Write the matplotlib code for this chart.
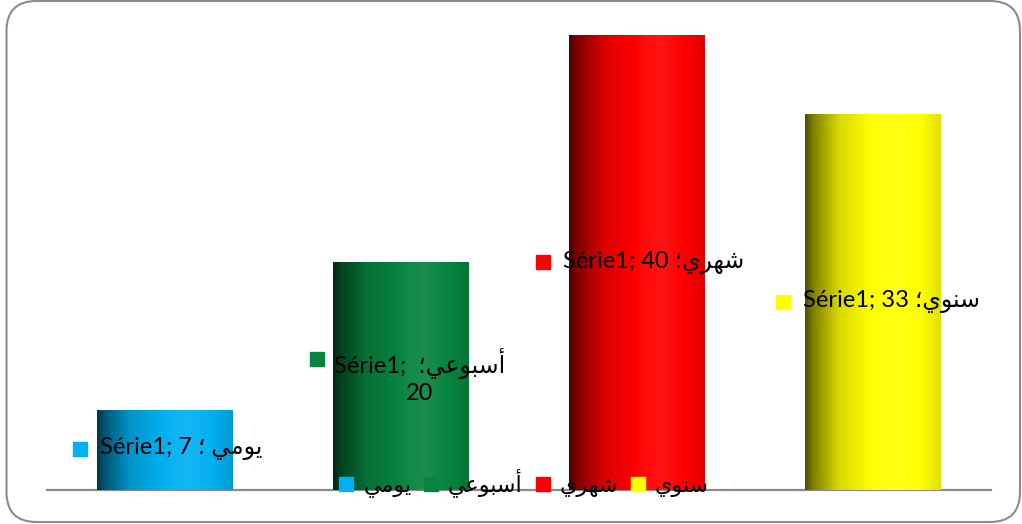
import numpy as np
import matplotlib
matplotlib.use("Agg")
import matplotlib.pyplot as plt
from matplotlib.patches import FancyBboxPatch
from matplotlib.lines import Line2D
from matplotlib.colors import to_rgb

# data
categories = ["يومي", "أسبوعي", "شهري", "سنوي"]
values = [7, 20, 40, 33]
series_name = "Série1"
colors = ["#00b0f0", "#07843f", "#ff0000", "#ffff00"]

# tiny arabic shaper (matplotlib does no shaping / bidi)
FORMS = {
    'ي': ('\ufef1', '\ufef2', '\ufef3', '\ufef4'),
    'م': ('\ufee1', '\ufee2', '\ufee3', '\ufee4'),
    'س': ('\ufeb1', '\ufeb2', '\ufeb3', '\ufeb4'),
    'ب': ('\ufe8f', '\ufe90', '\ufe91', '\ufe92'),
    'ع': ('\ufec9', '\ufeca', '\ufecb', '\ufecc'),
    'ش': ('\ufeb5', '\ufeb6', '\ufeb7', '\ufeb8'),
    'ه': ('\ufee9', '\ufeea', '\ufeeb', '\ufeec'),
    'ن': ('\ufee5', '\ufee6', '\ufee7', '\ufee8'),
    'و': ('\ufeed', '\ufeee'),
    'ر': ('\ufead', '\ufeae'),
    'أ': ('\ufe83', '\ufe84'),
}


def shape(word):
    out = []
    for i, ch in enumerate(word):
        f = FORMS.get(ch)
        if f is None:
            out.append(ch)
            continue
        prev = word[i - 1] if i > 0 else ''
        nxt = word[i + 1] if i + 1 < len(word) else ''
        jp = prev in FORMS and len(FORMS[prev]) == 4
        jn = nxt in FORMS and len(f) == 4
        if jp and jn:
            out.append(f[3])
        elif jp:
            out.append(f[1])
        elif jn:
            out.append(f[2])
        else:
            out.append(f[0])
    return ''.join(reversed(out))


FONT = ['Lato', 'DejaVu Sans']
plt.rcParams['font.family'] = FONT

fig = plt.figure(figsize=(10.22, 5.24), dpi=100)
W, H = 1022, 524

# rounded chart frame
frame = FancyBboxPatch((0.065, 0.02), 10.135, 5.21,
                       boxstyle="round,pad=0,rounding_size=0.3",
                       transform=fig.dpi_scale_trans, facecolor='none',
                       edgecolor='#8c8c8c', linewidth=1.5, zorder=-1)
fig.patches.append(frame)

ax = fig.add_axes([47 / W, (H - 490) / H, (991 - 47) / W, (490 - 35) / H])
ax.set_facecolor('none')
x = np.arange(len(categories))
bars = ax.bar(x, values, width=0.576, color=colors, zorder=2)
for s in ['top', 'left', 'right']:
    ax.spines[s].set_visible(False)
ax.spines['bottom'].set_color('#8c8c8c')
ax.spines['bottom'].set_linewidth(1.6)
ax.set_xticks([])
ax.set_yticks([])

# cylinder shading
t = np.linspace(0, 1, 256)
prof = np.interp(t, [0, 0.06, 0.25, 0.55, 0.68, 0.85, 1.0],
                 [0.3, 0.5, 0.85, 1.04, 1.08, 1.0, 0.88])
for p, c in zip(bars, colors):
    base = np.array(to_rgb(c))
    img = np.empty((1, 256, 3))
    for k, f in enumerate(prof):
        if f <= 1:
            img[0, k] = base * f
        else:
            img[0, k] = base + (1 - base) * (f - 1)
    x0, w, h = p.get_x(), p.get_width(), p.get_height()
    ax.imshow(img, extent=(x0, x0 + w, 0, h), aspect='auto',
              interpolation='bilinear', zorder=3)

ax.set_xlim(-0.5, 3.5)
ax.set_ylim(0, 40)

# data labels (positions in data coords)
ppx = 236.0  # pixels per category
ppy = 455.0 / 40


def dpos(px, py):
    return (px - 47) / ppx - 0.5, (490 - py) / ppy


label_txt = [
    f"{series_name}; {values[0]} ؛ " + shape(categories[0]),
    f"{series_name};  ؛" + shape(categories[1]) + f"\n{values[1]}",
    f"{series_name}; {values[2]} ؛" + shape(categories[2]),
    f"{series_name}; {values[3]} ؛" + shape(categories[3]),
]
sq_pos = [(80, 449), (317, 359), (543, 262), (783, 302)]
txt_pos = [(100, 449), (420, 376), (563, 262), (803, 302)]
for i in range(4):
    sx, sy = dpos(*sq_pos[i])
    ax.plot(sx, sy, 's', color=colors[i], markersize=10, zorder=5,
            clip_on=False)
    tx, ty = dpos(*txt_pos[i])
    if i == 1:
        ax.text(tx, ty, label_txt[i], ha='center', va='center',
                fontsize=17, linespacing=1.25, zorder=6, clip_on=False)
    else:
        ax.text(tx, ty, label_txt[i], ha='left', va='center', fontsize=17,
                zorder=6, clip_on=False)

# legend
handles = [Line2D([], [], marker='s', linestyle='none', color=c,
                  markersize=10) for c in colors]
ax.legend(handles, [shape(c) for c in categories], ncol=4, loc='center',
          bbox_to_anchor=(0.505, 7 / 455), frameon=False, fontsize=16,
          handlelength=0.7, handletextpad=0.4, columnspacing=0.55,
          borderpad=0)

fig.savefig("out.png", dpi=100)
